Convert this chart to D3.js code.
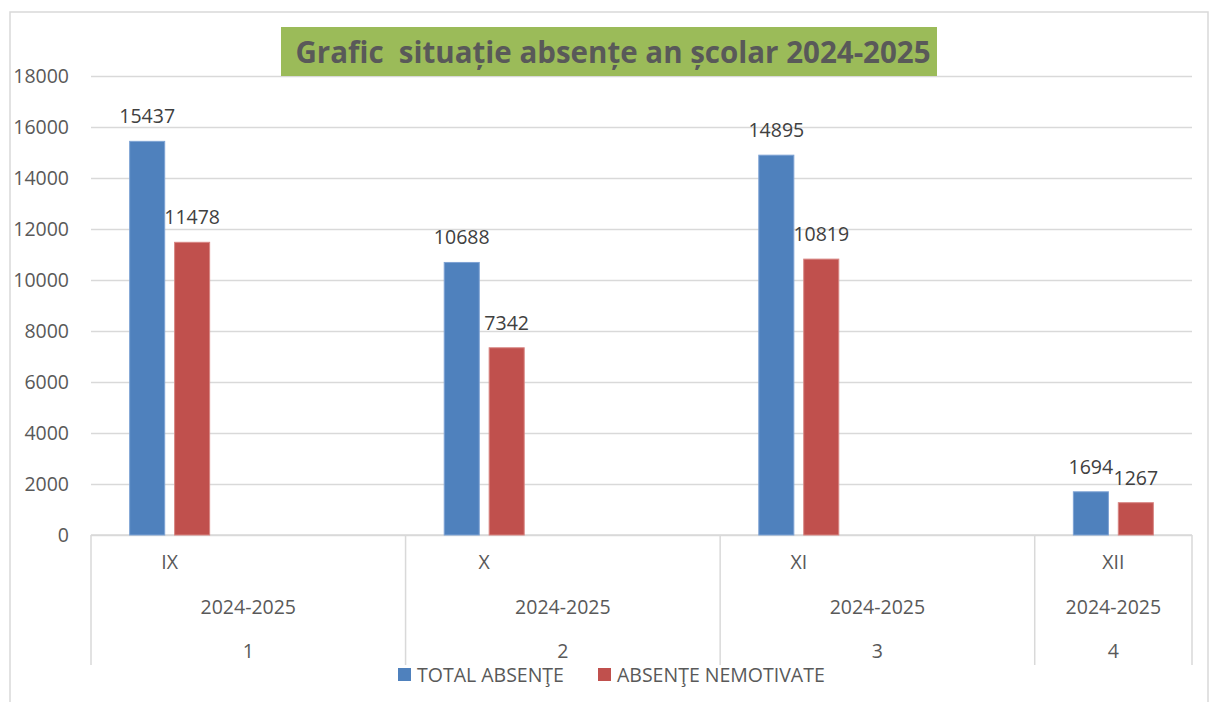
<!DOCTYPE html>
<html>
<head>
<meta charset="utf-8">
<script src="https://cdn.jsdelivr.net/npm/d3@7"></script>
<style>
  body { margin: 0; background: #fff; }
  text { font-family: "Open Sans", "Liberation Sans", sans-serif; }
</style>
</head>
<body>
<div id="chart"></div>
<script>
// chart values
const months = ["IX", "X", "XI", "XII"];
const schoolYears = ["2024-2025", "2024-2025", "2024-2025", "2024-2025"];
const groupNumbers = ["1", "2", "3", "4"];
const groupSlots = [2, 2, 2, 1];
const totalAbsente = [15437, 10688, 14895, 1694];
const absenteNemotivate = [11478, 7342, 10819, 1267];
const seriesNames = ["TOTAL ABSENŢE", "ABSENŢE NEMOTIVATE"];
const yTicks = [0, 2000, 4000, 6000, 8000, 10000, 12000, 14000, 16000, 18000];
const titleText = "Grafic  situație absențe an școlar 2024-2025";

const colors = ["#4F81BD", "#C0504D"];
const W = 1211, H = 702;
const margin = {top: 76, right: 19, bottom: 167, left: 91};
const width = W - margin.left - margin.right;
const height = H - margin.top - margin.bottom;

const svg = d3.select("#chart").append("svg")
  .attr("width", W).attr("height", H);

// outer chart border
svg.append("path")
  .attr("d", "M10,710 V12 H1208 V710")
  .attr("fill", "none").attr("stroke", "#d9d9d9").attr("stroke-width", 1.5);

const g = svg.append("g")
  .attr("transform", "translate(" + margin.left + "," + margin.top + ")");

// slot (leaf category) scale
const totalSlots = d3.sum(groupSlots);
const slotStart = groupSlots.map((d, i) => d3.sum(groupSlots.slice(0, i)));
const x0 = d3.scaleBand().domain(d3.range(totalSlots)).range([0, width]);
const x1 = d3.scaleBand().domain(seriesNames).range([0, x0.bandwidth()])
  .paddingInner(0.22).paddingOuter(0.86);
const y = d3.scaleLinear().domain([0, 18000]).range([height, 0]);

// y axis + gridlines
const yAxis = g.append("g")
  .call(d3.axisLeft(y).tickValues(yTicks).tickFormat(d3.format("d"))
    .tickSizeInner(-width).tickSizeOuter(0).tickPadding(22));
yAxis.select(".domain").remove();
yAxis.selectAll(".tick line").attr("stroke", "#d9d9d9").attr("stroke-width", 1.5);
yAxis.selectAll(".tick text")
  .attr("fill", "#595959").style("font-size", "19.5px")
  .style("font-family", "'Open Sans', sans-serif");

// multi-level category axis
const cat = g.append("g").attr("transform", "translate(0," + height + ")");
const bounds = slotStart.map(s => x0(s)).concat([width]);
cat.append("line").attr("x1", 0).attr("x2", width)
  .attr("stroke", "#d9d9d9").attr("stroke-width", 1.5);
cat.selectAll(".sep").data(bounds).enter().append("line")
  .attr("x1", d => d).attr("x2", d => d)
  .attr("y1", 0).attr("y2", 130)
  .attr("stroke", "#d9d9d9").attr("stroke-width", 1.5);

const labelStyle = sel => sel.attr("text-anchor", "middle").attr("fill", "#595959")
  .style("font-size", "19.5px");
cat.selectAll(".month").data(months).enter().append("text")
  .attr("x", (d, i) => x0(slotStart[i]) + x0.bandwidth() / 2)
  .attr("y", 34).text(d => d).call(labelStyle);
cat.selectAll(".year").data(schoolYears).enter().append("text")
  .attr("x", (d, i) => (bounds[i] + bounds[i + 1]) / 2)
  .attr("y", 79).text(d => d).call(labelStyle);
cat.selectAll(".num").data(groupNumbers).enter().append("text")
  .attr("x", (d, i) => (bounds[i] + bounds[i + 1]) / 2)
  .attr("y", 123).text(d => d).call(labelStyle);

// bars
const rows = months.map((m, i) => ({
  slot: slotStart[i],
  values: [totalAbsente[i], absenteNemotivate[i]]
}));
const groups = g.selectAll(".grp").data(rows).enter().append("g")
  .attr("transform", d => "translate(" + x0(d.slot) + ",0)");
groups.selectAll("rect").data(d => d.values).enter().append("rect")
  .attr("x", (d, j) => x1(seriesNames[j]))
  .attr("width", x1.bandwidth())
  .attr("y", d => y(d))
  .attr("height", d => height - y(d))
  .attr("fill", (d, j) => colors[j])
  .attr("stroke", (d, j) => j === 0 ? "#7ea3d4" : "#d88683")
  .attr("stroke-width", 1);
groups.selectAll(".lbl").data(d => d.values).enter().append("text")
  .attr("x", (d, j) => x1(seriesNames[j]) + x1.bandwidth() / 2)
  .attr("y", d => y(d) - 18)
  .attr("text-anchor", "middle").attr("fill", "#404040")
  .style("font-size", "19.5px")
  .text(d => d);

// title
svg.append("rect").attr("x", 281).attr("y", 27).attr("width", 656).attr("height", 49)
  .attr("fill", "#9BBB59");
svg.append("text").attr("x", 613).attr("y", 63)
  .attr("text-anchor", "middle").attr("fill", "#595959")
  .style("font-size", "29.5px").style("font-weight", "bold")
  .style("white-space", "pre")
  .text(titleText);

// legend
const legend = svg.append("g").attr("transform", "translate(398,668)");
const legendX = [0, 200];
seriesNames.forEach((name, i) => {
  legend.append("rect").attr("x", legendX[i]).attr("y", 0)
    .attr("width", 13).attr("height", 13).attr("fill", colors[i]);
  legend.append("text").attr("x", legendX[i] + 19).attr("y", 14)
    .attr("fill", "#595959").style("font-size", "19.5px").text(name);
});
</script>
</body>
</html>
